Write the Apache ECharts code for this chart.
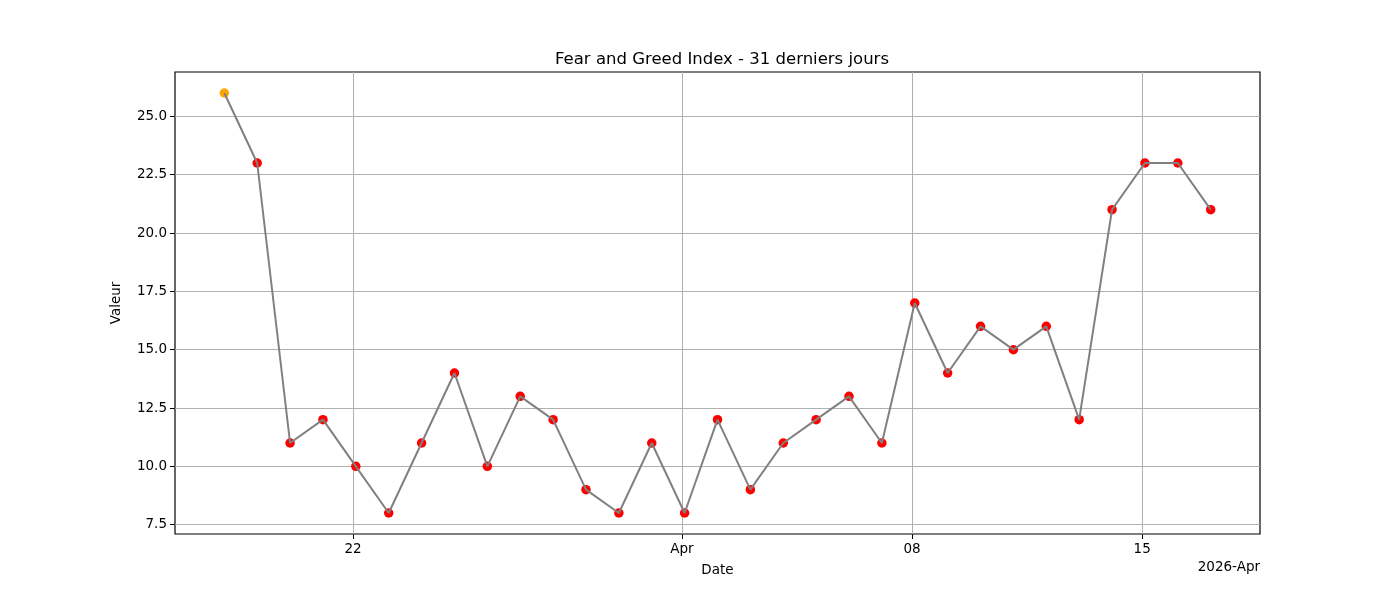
<!DOCTYPE html>
<html>
<head>
<meta charset="utf-8">
<script src="https://cdn.jsdelivr.net/npm/echarts@6/dist/echarts.min.js"></script>
<style>
  html, body { margin: 0; padding: 0; background: #fff; }
  #chart { width: 1400px; height: 600px; }
</style>
</head>
<body>
<div id="chart"></div>
<script>
// 31 days, 18 Mar -> 17 Apr 2026
var days = [
  '03-18', '03-19', '03-20', '03-21', '03-22', '03-23', '03-24', '03-25', '03-26', '03-27',
  '03-28', '03-29', '03-30', '03-31', '04-01', '04-02', '04-03', '04-04', '04-05', '04-06',
  '04-07', '04-08', '04-09', '04-10', '04-11', '04-12', '04-13', '04-14', '04-15', '04-16', '04-17'
];
var values = [26, 23, 11, 12, 10, 8, 11, 14, 10, 13, 12, 9, 8, 11, 8, 12, 9, 11, 12, 13, 11, 17, 14, 16, 15, 16, 12, 21, 23, 23, 21];

// date ticks (day index in the series) and their labels
var xTickDays = ['03-22', '04-01', '04-08', '04-15'];
var xTickLabels = ['22', 'Apr', '08', '15'];
var yTicks = [7.5, 10, 12.5, 15, 17.5, 20, 22.5, 25];

var FONT = 'DejaVu Sans';
// points sit a little after midnight, ticks are at midnight
var tickShift = 2 / 24;

var xTickVals = xTickDays.map(function (d) { return days.indexOf(d) - tickShift; });
var lineData = values.map(function (v, i) { return [i, v]; });
var pointData = values.map(function (v, i) {
  return { value: [i, v], itemStyle: { color: v >= 25 ? '#ffa500' : '#ff0000', opacity: 1 } };
});

var chart = echarts.init(document.getElementById('chart'), null, { renderer: 'canvas' });
chart.setOption({
  animation: false,
  backgroundColor: '#fff',
  title: {
    text: 'Fear and Greed Index - 31 derniers jours',
    left: 717, top: 46, textAlign: 'center',
    textStyle: { fontFamily: FONT, fontSize: 16.5, fontWeight: 'normal', color: '#000' }
  },
  grid: {
    left: 175, right: 140, top: 72, bottom: 66,
    show: true, borderColor: '#000', borderWidth: 1.2, backgroundColor: 'transparent'
  },
  xAxis: {
    type: 'value',
    min: -1.5, max: 31.5,
    name: 'Date', nameLocation: 'middle', nameGap: 29,
    nameTextStyle: { fontFamily: FONT, fontSize: 13.5, color: '#000' },
    axisLine: { show: false, onZero: false },
    axisTick: { show: true, length: 5, inside: false, customValues: xTickVals, lineStyle: { color: '#000', width: 1 } },
    axisLabel: {
      customValues: xTickVals, margin: 8,
      fontFamily: FONT, fontSize: 13.5, color: '#000',
      formatter: function (v) {
        var k = xTickVals.findIndex(function (t) { return Math.abs(t - v) < 1e-6; });
        return k >= 0 ? xTickLabels[k] : '';
      }
    },
    splitLine: { show: true, customValues: xTickVals, lineStyle: { color: '#b0b0b0', width: 1 } }
  },
  yAxis: {
    type: 'value',
    min: 7.1, max: 26.9,
    name: 'Valeur', nameLocation: 'middle', nameGap: 52, nameRotate: 90,
    nameTextStyle: { fontFamily: FONT, fontSize: 13.5, color: '#000' },
    axisLine: { show: false, onZero: false },
    axisTick: { show: true, length: 5, customValues: yTicks, lineStyle: { color: '#000', width: 1 } },
    axisLabel: {
      customValues: yTicks, margin: 8,
      fontFamily: FONT, fontSize: 13.5, color: '#000',
      formatter: function (v) { return v.toFixed(1); }
    },
    splitLine: { show: true, customValues: yTicks, lineStyle: { color: '#b0b0b0', width: 1 } }
  },
  graphic: [{
    type: 'text', right: 140, top: 560,
    style: { text: '2026-Apr', fontFamily: FONT, fontSize: 13.5, fill: '#000' }
  }],
  series: [
    {
      type: 'scatter',
      data: pointData,
      symbolSize: 9.5,
      z: 2
    },
    {
      type: 'line',
      data: lineData,
      showSymbol: false,
      lineStyle: { color: '#808080', width: 2 },
      z: 3
    }
  ]
});
</script>
</body>
</html>
